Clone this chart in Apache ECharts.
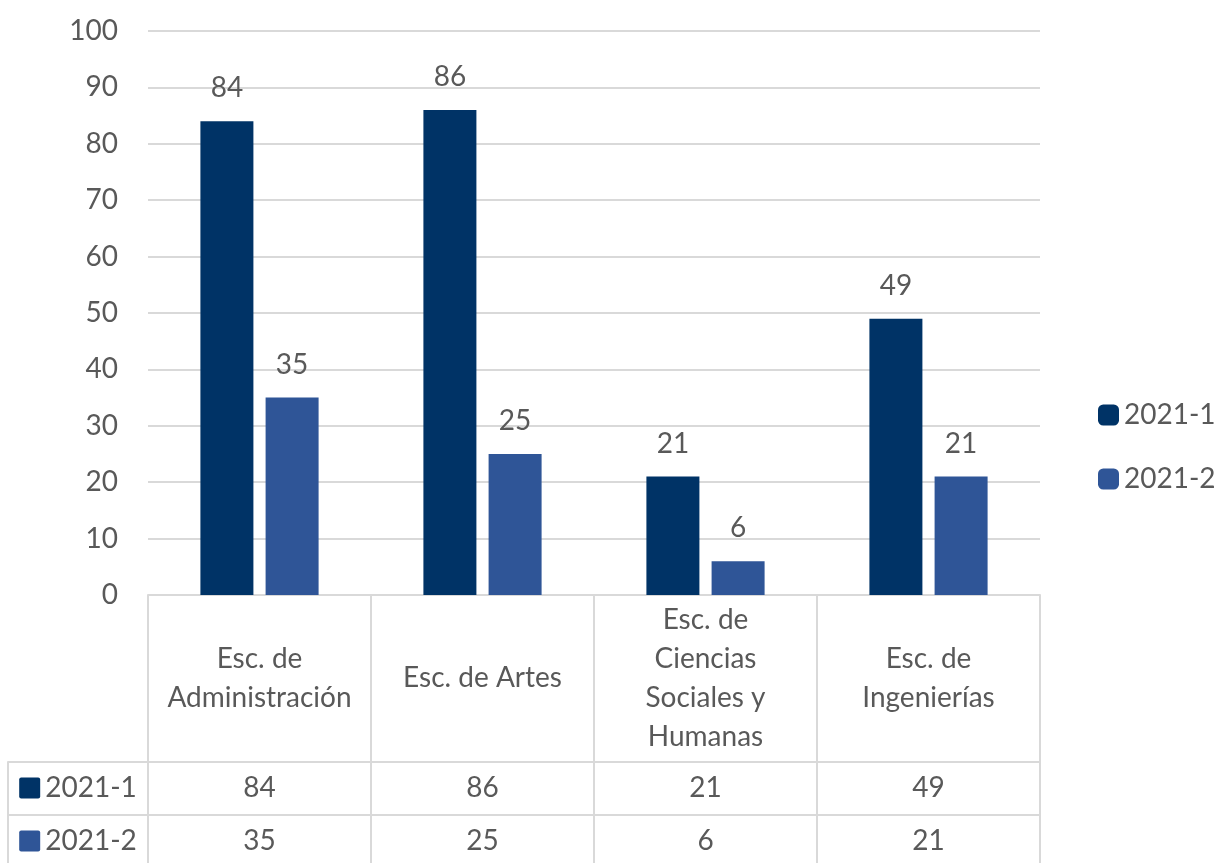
<!DOCTYPE html>
<html>
<head>
<meta charset="utf-8">
<script src="https://cdn.jsdelivr.net/npm/echarts@6/dist/echarts.min.js"></script>
<style>
  html, body { margin: 0; padding: 0; background: #fff; }
  #chart { width: 1220px; height: 863px; }
</style>
</head>
<body>
<div id="chart"></div>
<script>
const categories = [
  'Esc. de\nAdministración',
  'Esc. de Artes',
  'Esc. de\nCiencias\nSociales y\nHumanas',
  'Esc. de\nIngenierías',
];
const seriesNames = ['2021-1', '2021-2'];
const values2021_1 = [84, 86, 21, 49];
const values2021_2 = [35, 25, 6, 21];
const yTicks = { min: 0, max: 100, interval: 10 };

const colors = ['#003366', '#2f5597'];
const textColor = '#595959';
const lineColor = '#d9d9d9';
const font = 'Lato';
const fs = 28;

const chart = echarts.init(document.getElementById('chart'));

// row axes for the data table, below the plot
function rowAxis(data, offset, tickLen, grid) {
  return {
    type: 'category',
    gridIndex: grid,
    position: 'bottom',
    offset,
    data,
    axisLine: { show: true, onZero: false, lineStyle: { color: lineColor, width: 2 } },
    axisTick: { show: true, length: tickLen, lineStyle: { color: lineColor, width: 2 } },
    axisLabel: {
      margin: 26,
      verticalAlign: 'middle',
      color: textColor,
      fontFamily: font,
      fontSize: fs,
      rich: {
        a: { width: 21, height: 21, backgroundColor: colors[0], borderRadius: 2 },
        b: { width: 21, height: 21, backgroundColor: colors[1], borderRadius: 2 },
        t: { color: textColor, fontFamily: font, fontSize: fs, padding: [0, 0, 0, 5] },
      },
    },
    splitLine: { show: false },
  };
}

chart.setOption({
  color: colors,
  textStyle: { fontFamily: font },
  legend: {
    orient: 'vertical',
    left: 1093,
    top: 396,
    itemWidth: 21,
    itemHeight: 21,
    itemGap: 36,
    icon: 'roundRect',
    textStyle: { color: textColor, fontSize: fs, fontFamily: font },
    data: seriesNames,
  },
  grid: [
    { left: 148, right: 180, top: 31, bottom: 268 },
    { left: 8, width: 140, top: 31, bottom: 268, show: false },
  ],
  xAxis: [
    {
      type: 'category',
      gridIndex: 0,
      data: categories,
      axisLine: { show: true, onZero: false, lineStyle: { color: lineColor, width: 2 } },
      axisTick: { show: true, length: 167, lineStyle: { color: lineColor, width: 2 } },
      axisLabel: {
        margin: 83,
        verticalAlign: 'middle',
        color: textColor,
        fontFamily: font,
        fontSize: fs,
        lineHeight: 39,
        interval: 0,
      },
    },
    rowAxis(values2021_1.map(String), 167, 53, 0),
    rowAxis(values2021_2.map(String), 220, 53, 0),
    rowAxis(['{a|}{t|' + seriesNames[0] + '}'], 167, 53, 1),
    rowAxis(['{b|}{t|' + seriesNames[1] + '}'], 220, 53, 1),
  ],
  yAxis: [
    {
      type: 'value',
      gridIndex: 0,
      min: yTicks.min,
      max: yTicks.max,
      interval: yTicks.interval,
      axisLine: { show: false },
      axisTick: { show: false },
      axisLabel: { color: textColor, fontFamily: font, fontSize: fs, margin: 30 },
      splitLine: { lineStyle: { color: lineColor, width: 2 } },
    },
    { type: 'value', gridIndex: 1, min: 0, max: 1, show: false },
  ],
  series: [
    {
      name: seriesNames[0],
      type: 'bar',
      xAxisIndex: 0,
      yAxisIndex: 0,
      data: values2021_1,
      barWidth: 53,
      barGap: '23%',
      label: { show: true, position: 'top', distance: 19, color: textColor, fontFamily: font, fontSize: fs },
    },
    {
      name: seriesNames[1],
      type: 'bar',
      xAxisIndex: 0,
      yAxisIndex: 0,
      data: values2021_2,
      barWidth: 53,
      barGap: '23%',
      label: { show: true, position: 'top', distance: 19, color: textColor, fontFamily: font, fontSize: fs },
    },
  ],
});
</script>
</body>
</html>
